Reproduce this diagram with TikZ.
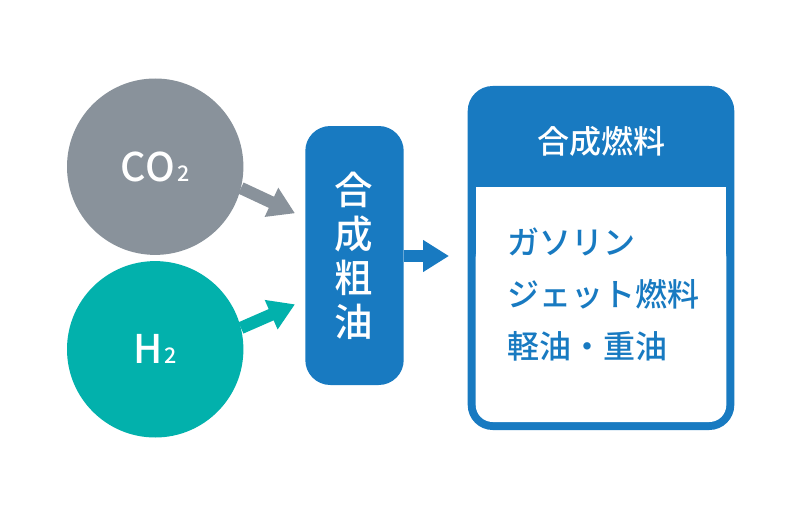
\documentclass[tikz,border=0pt]{standalone}
\usepackage{fontspec}
\usetikzlibrary{arrows.meta}
\setmainfont{Noto Sans CJK JP Medium}
\definecolor{blu}{HTML}{187AC1}
\definecolor{gry}{HTML}{89929B}
\definecolor{tea}{HTML}{02B1AC}
\tikzset{
 ball/.style={circle,minimum size=176.4pt,inner sep=0pt,text=white,font=\fontsize{39.5pt}{40pt}\selectfont},
 flow/.style={line width=12.3pt,-{Triangle[length=26pt,width=30.3pt]}},
 txt/.style={inner sep=0pt},
}
\newcommand{\subtwo}{\hspace{2.5pt}{\fontsize{21.5pt}{22pt}\selectfont 2}}
\begin{document}
\begin{tikzpicture}[x=1pt,y=-1pt]
\useasboundingbox (0,0) rectangle (801,519);
\fill[white] (0,0) rectangle (801,519);
% circles
\node[ball,fill=gry] (co) at (155.2,166.7) {\raisebox{-1pt}{CO\subtwo}\hspace{1pt}};
\node[ball,fill=tea] (hy) at (155.2,349.3) {H\subtwo\hspace{1pt}};
% crude box
\node[fill=blu,rounded corners=25pt,minimum width=98.4pt,minimum height=259pt,inner sep=0pt,text=white,align=center,font=\fontsize{38.5pt}{44pt}\selectfont] (crude) at (354.5,255.5) {合\kern2pt\\成\kern2pt\\粗\kern2pt\\油\kern2pt};
% product box
\node[fill=blu,rounded corners=25pt,minimum width=266.6pt,minimum height=344pt,inner sep=0pt] (fuel) at (601,258) {};
\coordinate (ia) at (475.7,186.7);
\coordinate (ib) at (726.3,300);
\coordinate (ic) at (475.7,240);
\coordinate (id) at (726.3,422);
\fill[white,rounded corners=17pt] (ic) rectangle (id);
\fill[white] (ia) rectangle (ib);
\node[txt,text=white,font=\fontsize{32pt}{34pt}\selectfont] (title) at (601,141) {合成燃料};
\node[txt,text=blu,anchor=west,align=left,font=\fontsize{32pt}{52pt}\selectfont] (list) at (507,295) {ガソリン\\ジェット燃料\\軽油・重油};
% connectors
\coordinate (gt) at (295,213.3);
\coordinate (tt) at (295,304.3);
\coordinate (bt) at (449,256);
\draw[flow,draw=gry,fill=gry] (co.-14.6) -- (gt);
\draw[flow,draw=tea,fill=tea] (hy.14.6) -- (tt);
\draw[flow,draw=blu,fill=blu] (crude.east |- bt) -- (bt);
\end{tikzpicture}
\end{document}
